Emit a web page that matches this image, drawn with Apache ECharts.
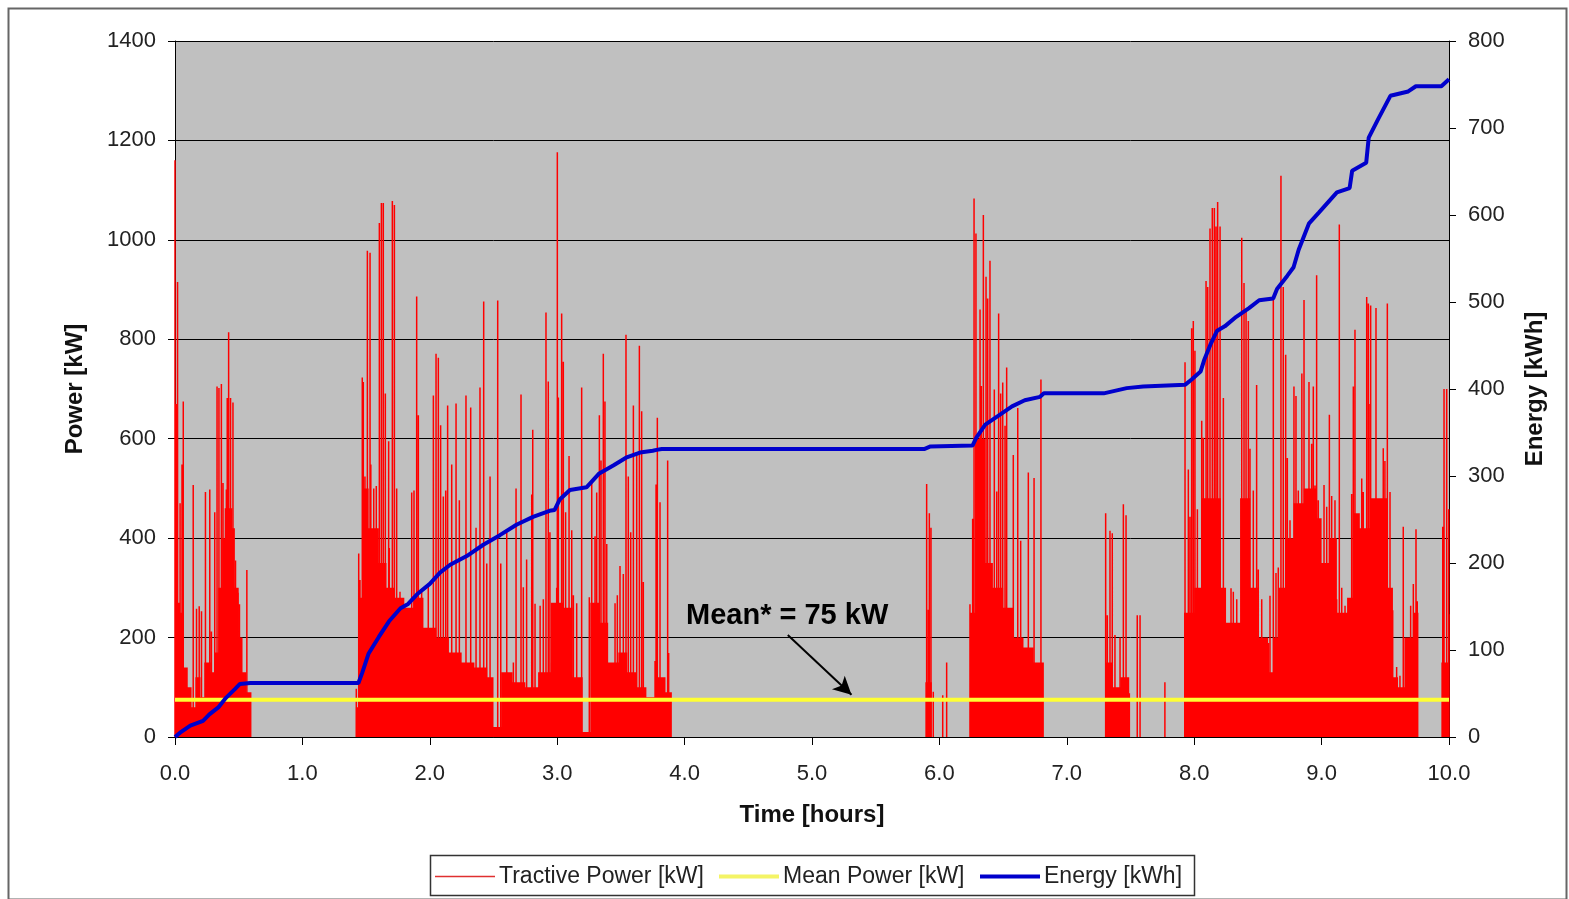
<!DOCTYPE html>
<html><head><meta charset="utf-8">
<script src="https://cdn.jsdelivr.net/npm/echarts@6/dist/echarts.min.js"></script>
<style>html,body{margin:0;padding:0;background:#fff}#c{width:1569px;height:899px}</style>
</head><body><div id="c"></div><script>
// ---- data ----
const spikeTime = [0.000,0.010,0.020,0.040,0.055,0.065,0.143,0.169,0.190,0.208,0.239,0.273,0.286,0.312,0.330,0.345,0.364,0.377,0.403,0.410,0.421,0.436,0.455,0.475,0.494,0.506,0.564,
1.423,1.442,1.452,1.470,1.478,1.491,1.510,1.531,1.537,1.560,1.580,1.604,1.620,1.635,1.651,1.677,1.682,1.706,1.722,1.740,1.766,1.858,1.876,1.897,1.910,1.936,1.988,2.028,2.049,2.067,2.085,2.106,2.125,2.140,2.172,2.206,2.232,2.284,2.321,2.363,2.394,2.423,2.447,2.473,2.533,2.557,2.604,2.656,2.677,2.716,2.734,2.760,2.800,2.808,2.826,2.866,2.891,2.912,2.930,2.943,2.957,2.996,3.001,3.009,3.035,3.048,3.066,3.093,3.114,3.127,3.153,3.192,3.252,3.271,3.297,3.310,3.331,3.344,3.362,3.375,3.389,3.454,3.472,3.493,3.519,3.540,3.558,3.577,3.598,3.624,3.645,3.663,3.676,3.768,3.776,3.786,3.807,3.867,3.875,
5.900,5.913,5.921,5.934,5.952,6.026,6.057,6.240,6.261,6.272,6.287,6.319,6.329,6.345,6.366,6.379,6.397,6.431,6.450,6.465,6.481,6.497,6.515,6.528,6.580,6.615,6.638,6.698,6.743,6.797,
7.305,7.318,7.339,7.357,7.378,7.418,7.444,7.465,7.491,7.553,7.575,7.770,
7.928,7.954,7.967,7.980,7.993,8.006,8.025,8.046,8.059,8.072,8.093,8.106,8.124,8.142,8.158,8.171,8.184,8.203,8.229,8.242,8.268,8.289,8.307,8.334,8.373,8.391,8.407,8.425,8.438,8.464,8.490,8.503,8.530,8.582,8.595,8.621,8.642,8.660,8.681,8.699,8.718,8.731,8.752,8.783,8.799,8.817,8.845,8.862,8.901,8.922,8.935,8.948,8.961,8.974,8.992,9.019,9.040,9.061,9.079,9.105,9.118,9.139,9.158,9.184,9.218,9.236,9.249,9.262,9.275,9.315,9.327,9.354,9.367,9.380,9.385,9.406,9.427,9.458,9.484,9.497,9.516,9.537,9.558,9.589,9.615,9.641,9.662,9.699,9.720,9.741,9.751,9.951,9.961,9.982,9.995,9.998,10.000];
const spikePower = [1160,670,915,470,548,675,507,258,263,253,493,498,212,452,705,702,710,511,498,682,814,682,673,355,290,267,336,
97,369,316,723,714,524,978,974,548,500,505,1034,1074,1074,691,595,380,1078,1070,500,292,492,496,886,647,292,308,687,771,763,627,484,496,667,548,671,476,687,663,421,703,876,349,524,878,349,412,150,500,689,301,357,488,618,268,264,277,854,715,412,149,300,1176,683,852,755,452,565,416,285,269,703,281,516,404,492,647,556,771,675,388,269,285,344,328,809,524,412,667,571,787,655,312,153,508,642,472,556,169,
509,256,450,421,91,84,150,267,439,1083,1013,860,706,1050,926,882,958,699,494,852,691,713,626,743,567,662,395,532,521,719,
450,245,415,410,205,200,468,446,88,245,245,110,
754,538,443,822,837,777,458,292,636,602,917,905,1023,1064,1064,1027,1076,1027,682,284,144,299,292,277,1004,913,856,837,580,496,708,337,277,189,284,879,330,341,1129,905,769,561,436,705,686,496,731,879,714,590,705,506,929,476,335,507,463,648,485,476,277,1031,300,264,255,489,705,819,365,520,493,885,872,670,868,361,863,300,581,555,872,493,255,141,123,423,176,264,308,418,273,423,700,700,123,458,247];

// dense base of the tractive power trace (level held until next time)
const baseTime  = [0,0.04,0.07,0.10,0.13,0.16,0.20,0.23,0.28,0.31,0.34,0.37,0.39,0.45,0.47,0.50,0.53,0.56,0.60,
1.42,1.45,1.47,1.52,1.60,1.66,1.72,1.80,1.87,1.95,2.05,2.15,2.25,2.35,2.45,2.50,2.56,2.65,2.75,2.85,2.95,3.05,3.12,3.20,3.26,3.33,3.40,3.48,3.55,3.62,3.70,3.78,3.85,3.90,
5.89,5.94,6.24,6.28,6.36,6.42,6.50,6.58,6.66,6.74,6.82,
7.30,7.36,7.42,7.49,
7.92,8.00,8.06,8.21,8.25,8.36,8.44,8.50,8.58,8.62,8.66,8.72,8.78,8.86,8.96,9.00,9.06,9.12,9.20,9.25,9.30,9.38,9.52,9.56,9.60,9.65,9.72,9.76,9.94,10.0];
const basePower = [270,250,140,100,60,120,80,150,130,170,300,400,460,420,300,200,130,90,0,
60,280,500,420,350,300,280,260,280,220,200,170,150,140,120,20,130,110,100,130,270,260,120,10,270,230,150,170,130,100,80,120,90,0,
110,0,250,600,350,300,260,200,180,150,0,
150,100,120,0,
250,300,480,300,230,480,300,200,130,200,300,400,470,500,440,350,400,250,280,450,420,480,300,120,100,200,250,0,150,150];

const meanPower = 75;

const energyTime  = [0,0.04,0.12,0.22,0.27,0.34,0.40,0.47,0.51,0.59,1.44,1.47,1.52,1.60,1.68,1.77,1.83,1.90,2.00,2.08,2.16,2.29,2.42,2.55,2.68,2.81,2.94,2.98,3.02,3.10,3.23,3.33,3.44,3.54,3.65,3.75,3.78,3.82,3.90,5.88,5.93,6.26,6.29,6.36,6.47,6.57,6.67,6.79,6.82,7.29,7.47,7.60,7.93,7.98,8.05,8.08,8.13,8.18,8.24,8.33,8.43,8.51,8.62,8.65,8.73,8.78,8.82,8.90,8.98,9.12,9.22,9.24,9.35,9.37,9.45,9.54,9.68,9.74,9.94,10.0];
const energyValue = [0,5,13,18.5,26,34,45,55,61,62,62,74,96,115,133,148,153,164,176,189,198,208,221,232,244,253,260,261,273,284,287,303,312,321,327,329,330,331,331,331,334,335,344,359,370,380,387,391,395,395,401,403,405,411,420,434,452,467,472,483,493,502,504,515,530,540,560,590,603,626,631,651,660,689,712,737,742,748,748,756];

const seriesNames = ['Tractive Power [kW]','Mean Power [kW]','Energy [kWh]'];
const timeTicks = {min:0, max:10, step:1};
const powerTicks = {min:0, max:1400, step:200};
const energyTicks = {min:0, max:800, step:100};

// ---- build library tables ----
const spikeData = [];
spikeTime.forEach((t,i)=>{ spikeData.push([t,0],[t,spikePower[i]],null); });
const baseData = baseTime.map((t,i)=>[t,basePower[i]]);
const meanData = [[timeTicks.min,meanPower],[timeTicks.max,meanPower]];
const energyData = energyTime.map((t,i)=>[t,energyValue[i]]);

const FONT = "'Liberation Sans', Arial, sans-serif";
const legendText = {fontFamily:FONT, fontSize:23, color:'#222', padding:[0,0,0,-1]};
function legendFor(name, left, h){
  return {data:[name], left:left, top:873 - Math.max(h,14)/2 - 1, icon:'rect', itemWidth:60, itemHeight:h,
    textStyle:legendText, padding:0, selectedMode:false};
}
const chart = echarts.init(document.getElementById('c'), null, {renderer:'canvas'});
chart.setOption({
  animation:false,
  backgroundColor:'#ffffff',
  textStyle:{fontFamily:FONT},
  grid:{left:175, right:120, top:41, bottom:162, show:true, backgroundColor:'#c0c0c0', borderWidth:0},
  xAxis:{type:'value', min:timeTicks.min, max:timeTicks.max, interval:timeTicks.step,
    name:'Time [hours]', nameLocation:'middle', nameGap:66,
    nameTextStyle:{fontFamily:FONT, fontSize:24, fontWeight:'bold', color:'#111'},
    axisLine:{show:true, onZero:false, lineStyle:{color:'#000', width:1}},
    axisTick:{show:true, length:8, lineStyle:{color:'#000'}},
    axisLabel:{fontFamily:FONT, fontSize:22, color:'#222', margin:26, formatter:v=>v.toFixed(1)},
    splitLine:{show:false}},
  yAxis:[
    {type:'value', min:powerTicks.min, max:powerTicks.max, interval:powerTicks.step, position:'left',
     name:'Power [kW]', nameLocation:'middle', nameGap:88, nameRotate:90,
     nameTextStyle:{fontFamily:FONT, fontSize:24, fontWeight:'bold', color:'#111'},
     axisLine:{show:true, lineStyle:{color:'#000', width:1}},
     axisTick:{show:true, length:7, lineStyle:{color:'#000'}},
     axisLabel:{fontFamily:FONT, fontSize:22, color:'#222', margin:19, formatter:v=>String(v)},
     splitLine:{show:true, lineStyle:{color:'#000', width:1}}},
    {type:'value', min:energyTicks.min, max:energyTicks.max, interval:energyTicks.step, position:'right',
     name:'Energy [kWh]', nameLocation:'middle', nameGap:74, nameRotate:90,
     nameTextStyle:{fontFamily:FONT, fontSize:24, fontWeight:'bold', color:'#111'},
     axisLine:{show:true, lineStyle:{color:'#000', width:1}},
     axisTick:{show:true, length:7, lineStyle:{color:'#000'}},
     axisLabel:{fontFamily:FONT, fontSize:22, color:'#222', margin:19, formatter:v=>String(v)},
     splitLine:{show:false}}
  ],
  legend:[
    legendFor(seriesNames[0], 435, 1.5),
    legendFor(seriesNames[1], 719, 4),
    legendFor(seriesNames[2], 980, 4)
  ],
  graphic:[
    {type:'rect', left:6, top:6, shape:{width:1558, height:891}, style:{fill:'none', stroke:'#666', lineWidth:2}, silent:true, z:-1},
    {type:'rect', left:428, top:853, shape:{width:764, height:40}, style:{fill:'none', stroke:'#333', lineWidth:1.5}, silent:true},
    {type:'text', left:686, top:601, style:{text:'Mean* = 75 kW', font:"bold 29px 'Liberation Sans', Arial, sans-serif", fill:'#000'}, z:100}
  ],
  series:[
    {name:seriesNames[0], type:'line', data:spikeData, symbol:'none', connectNulls:false,
     lineStyle:{color:'#ff0000', width:1.5}, itemStyle:{color:'#e03030'}, z:2},
    {name:seriesNames[0], type:'line', data:baseData, step:'end', symbol:'none',
     lineStyle:{width:0, color:'#ff0000'}, areaStyle:{color:'#ff0000', opacity:1}, itemStyle:{color:'#e03030'}, z:2},
    {name:seriesNames[1], type:'line', data:meanData, symbol:'none',
     lineStyle:{color:'#ffff33', width:4}, itemStyle:{color:'#f4f466'}, z:3,
     markLine:{silent:true, symbol:['none','arrow'], symbolSize:[14,18],
       lineStyle:{color:'#000', width:2, type:'solid'}, label:{show:false},
       data:[[{coord:[4.81,205]},{coord:[5.31,85]}]]}},
    {name:seriesNames[2], type:'line', yAxisIndex:1, data:energyData, symbol:'none',
     lineStyle:{color:'#0000cc', width:4}, itemStyle:{color:'#0000cc'}, z:4}
  ]
});
</script></body></html>
